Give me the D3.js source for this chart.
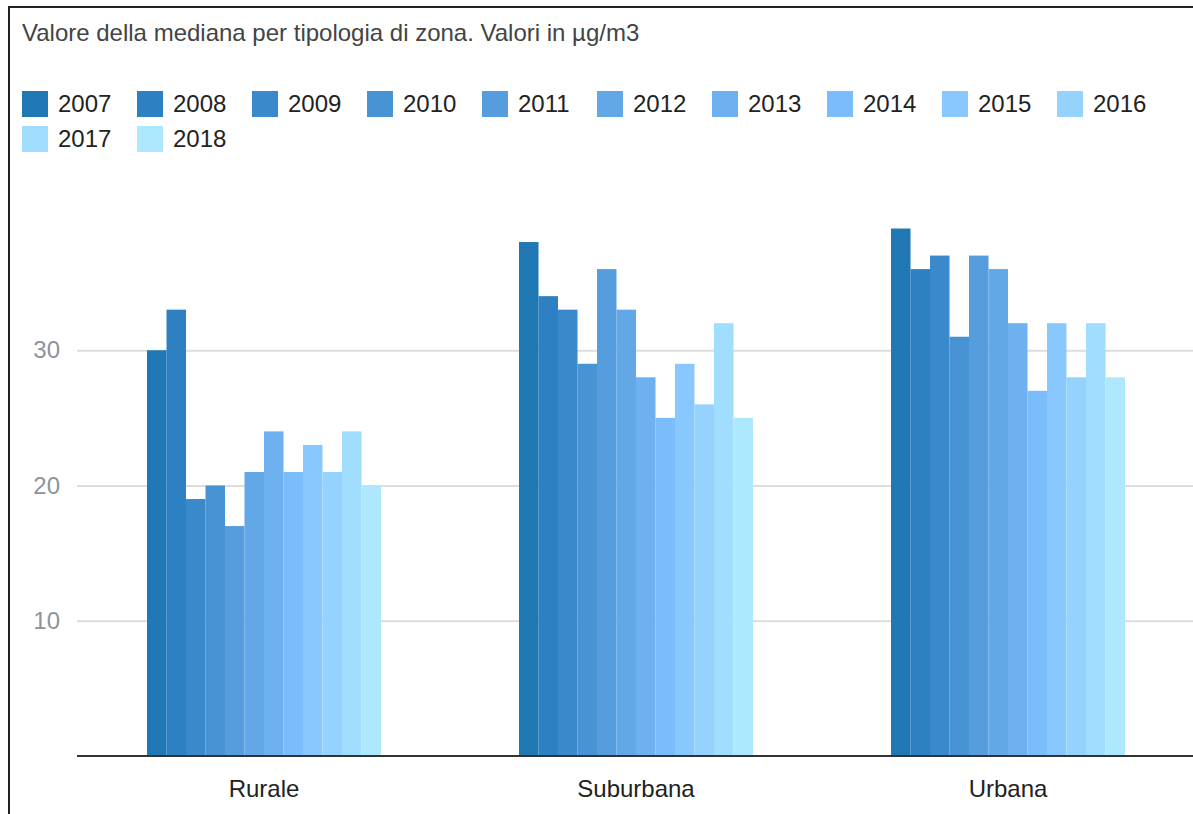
<!DOCTYPE html>
<html>
<head>
<meta charset="utf-8">
<script src="https://cdn.jsdelivr.net/npm/d3@7/dist/d3.min.js"></script>
<style>
  html, body { margin: 0; padding: 0; background: #fff; }
  svg { display: block; font-family: Arial, "Liberation Sans", sans-serif; }
</style>
</head>
<body>
<svg id="chart" width="1193" height="814"></svg>
<script>
// Median values by zone type (µg/m3), one array per year
const zones = ["Rurale", "Suburbana", "Urbana"];
const years = ["2007", "2008", "2009", "2010", "2011", "2012", "2013", "2014", "2015", "2016", "2017", "2018"];
const rurale    = [30, 33, 19, 20, 17, 21, 24, 21, 23, 21, 24, 20];
const suburbana = [38, 34, 33, 29, 36, 33, 28, 25, 29, 26, 32, 25];
const urbana    = [39, 36, 37, 31, 37, 36, 32, 27, 32, 28, 32, 28];
const yTicks = [10, 20, 30];
const colors = ["#1f77b4", "#2d80c1", "#3a89ca", "#4893d3", "#559ddd", "#62a7e6", "#6db1f1", "#7bbcfb", "#88c8fe", "#95d3fe", "#a1ddff", "#aee8ff"];

const valuesByZone = { Rurale: rurale, Suburbana: suburbana, Urbana: urbana };

const W = 1193, H = 814;
const plot = { left: 77, right: 1193, top: 215, bottom: 756 };

const svg = d3.select("#chart");
svg.append("rect").attr("width", W).attr("height", H).attr("fill", "#fff");

// Title
svg.append("text")
  .attr("x", 22).attr("y", 41)
  .attr("font-size", 24).attr("fill", "#444")
  .text("Valore della mediana per tipologia di zona. Valori in µg/m3");

// Legend: ten entries per row
const color = d3.scaleOrdinal().domain(years).range(colors);
const legend = svg.append("g");
const item = legend.selectAll("g").data(years).join("g")
  .attr("transform", (d, i) => `translate(${22 + (i % 10) * 115},${91 + Math.floor(i / 10) * 35})`);
item.append("rect").attr("width", 26).attr("height", 26).attr("fill", d => color(d));
item.append("text")
  .attr("x", 36).attr("y", 13).attr("dy", "0.35em")
  .attr("font-size", 24).attr("fill", "#222")
  .text(d => d);

// Scales
const x = d3.scaleBand().domain(zones).range([plot.left + 1, plot.right + 1])
  .paddingInner(0.371).paddingOuter(0.1855);
const xYear = d3.scaleBand().domain(years).range([0, x.bandwidth()]);
const y = d3.scaleLinear().domain([0, 40]).range([plot.bottom, plot.top]);

// Gridlines and value labels
const yAxis = svg.append("g")
  .attr("transform", `translate(${plot.left},0)`)
  .call(d3.axisLeft(y).tickValues(yTicks).tickSize(-(plot.right - plot.left)).tickPadding(17).tickFormat(d3.format("d")));
yAxis.select(".domain").remove();
yAxis.selectAll(".tick line").attr("stroke", "#dddddd").attr("stroke-width", 2);
yAxis.selectAll(".tick text").attr("font-size", 24).attr("fill", "#8e939b").attr("font-family", "Arial, 'Liberation Sans', sans-serif");

// Bars
const groups = svg.append("g").selectAll("g").data(zones).join("g")
  .attr("transform", d => `translate(${x(d)},0)`);
groups.selectAll("rect")
  .data(z => years.map((yr, i) => ({ year: yr, value: valuesByZone[z][i] })))
  .join("rect")
  .attr("x", d => xYear(d.year))
  .attr("y", d => y(d.value))
  .attr("width", xYear.bandwidth())
  .attr("height", d => y(0) - y(d.value))
  .attr("fill", d => color(d.year));

// Baseline and category labels
const xAxis = svg.append("g")
  .attr("transform", `translate(0,${plot.bottom})`)
  .call(d3.axisBottom(x).tickSize(0).tickPadding(24));
xAxis.select(".domain").attr("d", `M${plot.left},0H${plot.right}`).attr("stroke", "#333").attr("stroke-width", 2);
xAxis.selectAll(".tick text").attr("font-size", 24).attr("fill", "#222").attr("font-family", "Arial, 'Liberation Sans', sans-serif");

// Outer frame (top and left edges)
svg.append("path")
  .attr("d", `M9,${H} V7 H${W}`)
  .attr("fill", "none").attr("stroke", "#222").attr("stroke-width", 2);
</script>
</body>
</html>
